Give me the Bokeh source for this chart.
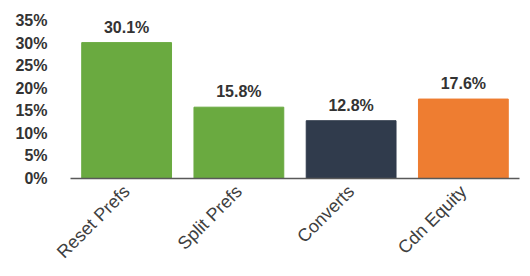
from bokeh.plotting import figure
from bokeh.models import ColumnDataSource, FixedTicker, Range1d, LabelSet
from bokeh.core.properties import value
from bokeh.embed import file_html
from bokeh.resources import INLINE
from math import pi

categories = ["Reset Prefs", "Split Prefs", "Converts", "Cdn Equity"]
values = [30.1, 15.8, 12.8, 17.6]
colors = ["#6AAA40", "#6AAA40", "#303B4C", "#EE7D31"]
labels = ["30.1%", "15.8%", "12.8%", "17.6%"]
y_ticks = [0, 5, 10, 15, 20, 25, 30, 35]

src = ColumnDataSource(dict(cat=categories, val=values, color=colors, lab=labels))

p = figure(x_range=categories, y_range=Range1d(0, 35), width=522, height=272,
           output_backend="svg", toolbar_location=None,
           min_border_left=70, min_border_right=3, min_border_top=20, min_border_bottom=93)
p.vbar(x="cat", top="val", width=0.8, color="color", source=src)

# value labels above bars
p.add_layout(LabelSet(x="cat", y="val", text="lab", source=src, text_align="center",
                      text_baseline="bottom", y_offset=7, text_font=value("Liberation Sans"),
                      text_font_style="bold", text_font_size="16px", text_color="#333333"))

p.xgrid.grid_line_color = None
p.ygrid.grid_line_color = None
p.outline_line_color = None

p.yaxis.ticker = FixedTicker(ticks=y_ticks)
p.yaxis.major_label_overrides = {t: f"{t}%" for t in y_ticks}
p.yaxis.axis_line_color = None
p.yaxis.major_tick_line_color = None
p.yaxis.minor_tick_line_color = None
p.yaxis.major_label_standoff = 17
p.yaxis.major_label_text_font = "Liberation Sans"
p.yaxis.major_label_text_font_style = "bold"
p.yaxis.major_label_text_font_size = "16px"
p.yaxis.major_label_text_color = "#333333"

p.xaxis.axis_line_color = "#595959"
p.xaxis.axis_line_width = 1.5
p.xaxis.major_tick_line_color = None
p.xaxis.minor_tick_line_color = None
p.xaxis.major_label_orientation = pi / 4
p.xaxis.major_label_standoff = 4
p.xaxis.major_label_text_font = "Liberation Sans"
p.xaxis.major_label_text_font_size = "18px"
p.xaxis.major_label_text_color = "#404040"
p.x_range.range_padding = 0
p.x_range.group_padding = 0

open("out.html", "w").write(file_html(p, INLINE))
